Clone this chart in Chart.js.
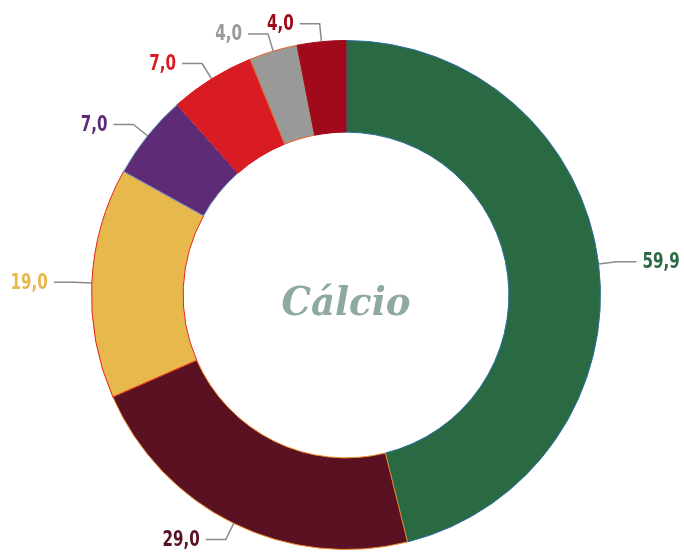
<!DOCTYPE html>
<html>
<head>
<meta charset="utf-8">
<script src="https://cdn.jsdelivr.net/npm/chart.js@4/dist/chart.umd.min.js"></script>
<style>
  html,body{margin:0;padding:0;background:#fff;}
  #box{width:684px;height:552px;}
</style>
</head>
<body>
<div id="box"><canvas id="myChart"></canvas></div>
<script>
var categorias=['A','B','C','D','E','F','G'];
var valores=[59.9,29.0,19.0,7.0,7.0,4.0,4.0];
var etiquetas=['59,9','29,0','19,0','7,0','7,0','4,0','4,0'];
var cores=['#2a6a42','#5a1121','#e7b84c','#5e2b76','#d91b23','#999998','#a10a1b'];
var bordas=['#2c6fa6','#f08a2a','#e5231b','#7fb6d8','#d91b23','#e8622c','#a10a1b'];
var coresTexto=['#2a6a42','#5a1121','#e7b84c','#5e2b76','#d91b23','#999998','#a10a1b'];
var titulo='Cálcio';

var myChart=document.getElementById('myChart');

//rotulos com linha de chamada
var rotulos={
	id:'rotulos',
	afterDatasetsDraw:function(chart){
		var ctx=chart.ctx;
		var meta=chart.getDatasetMeta(0);
		ctx.save();
		meta.data.forEach(function(arc,i){
			var mid=(arc.startAngle+arc.endAngle)/2;
			var r=arc.outerRadius;
			var cx=arc.x, cy=arc.y;
			var x0=cx+Math.cos(mid)*r, y0=cy+Math.sin(mid)*r;
			var x1=cx+Math.cos(mid)*(r+18), y1=cy+Math.sin(mid)*(r+18);
			var lado=Math.cos(mid)>=0?1:-1;
			var x2=x1+lado*20;
			ctx.strokeStyle='#8a8a8a';
			ctx.lineWidth=1.5;
			ctx.beginPath();
			ctx.moveTo(x0,y0);
			ctx.lineTo(x1,y1);
			ctx.lineTo(x2,y1);
			ctx.stroke();
			//texto estreito
			ctx.save();
			ctx.font='bold 21px "DejaVu Sans Condensed","DejaVu Sans",sans-serif';
			ctx.fillStyle=coresTexto[i];
			ctx.textBaseline='middle';
			ctx.textAlign=lado>0?'left':'right';
			ctx.translate(x2+lado*6,y1+1);
			ctx.scale(0.8,1);
			ctx.fillText(etiquetas[i],0,0);
			ctx.restore();
		});
		//titulo central
		var a=meta.data[0];
		ctx.font='bold italic 39px "DejaVu Serif",serif';
		ctx.fillStyle='#8ea99f';
		ctx.textAlign='center';
		ctx.textBaseline='alphabetic';
		ctx.translate(a.x,a.y+20);
		ctx.scale(0.95,1);
		ctx.fillText(titulo,0,0);
		ctx.restore();
	}
};

var grafica=new Chart(myChart,{
	type:'doughnut',
	data:{
		labels:categorias,
		datasets:[{
			data:valores,
			backgroundColor:cores,
			borderColor:bordas,
			borderWidth:1
		}]
	},
	options:{
		responsive:true,
		maintainAspectRatio:false,
		animation:false,
		cutout:'64%',
		layout:{padding:{top:40,bottom:2,left:80,right:72}},
		plugins:{
			legend:{display:false},
			tooltip:{enabled:false}
		}
	},
	plugins:[rotulos]
});
</script>
</body>
</html>
